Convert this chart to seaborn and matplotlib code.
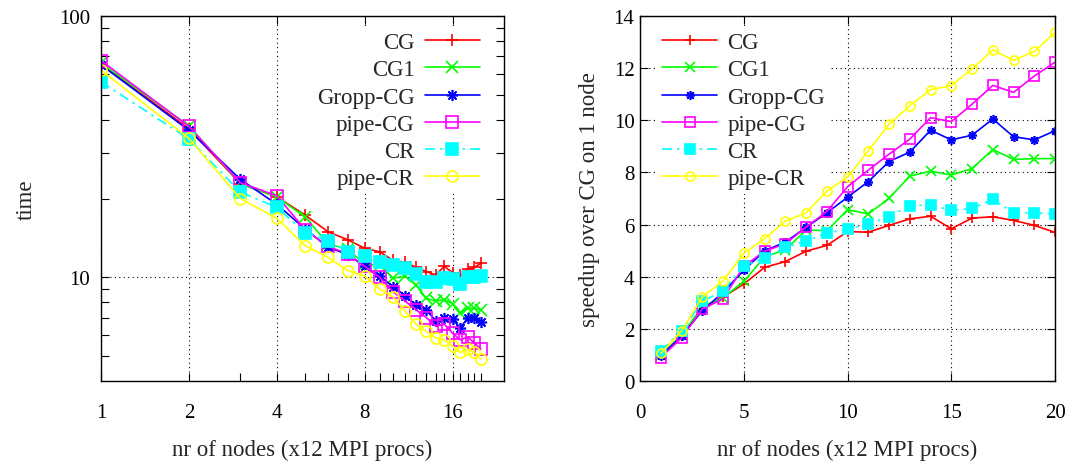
import numpy as np
import pandas as pd
import matplotlib
matplotlib.use("Agg")
import matplotlib.pyplot as plt
import seaborn as sns
from matplotlib.ticker import FixedLocator, NullFormatter, NullLocator

# --- dados ---
nodes = list(range(1, 21))
methods = ["CG", "CG1", "Gropp-CG", "pipe-CG", "CR", "pipe-CR"]

time_cg = [65.5, 37.0, 22.8, 20.3, 17.3, 14.9, 13.9, 12.9, 12.5, 11.6,
           11.4, 10.9, 10.5, 10.2, 11.0, 10.4, 10.2, 10.7, 10.9, 11.3]
time_cg1 = [66.0, 38.0, 22.8, 20.3, 17.0, 13.4, 12.8, 11.2, 11.1, 9.9,
            10.1, 9.3, 8.3, 8.1, 8.2, 7.9, 7.3, 7.6, 7.6, 7.5]
time_gropp = [65.0, 36.5, 23.7, 19.0, 15.3, 13.0, 12.2, 11.0, 10.1, 9.2,
              8.5, 7.8, 7.5, 6.8, 7.0, 6.9, 6.4, 6.95, 7.0, 6.75]
time_pipecg = [67.5, 37.8, 23.0, 20.5, 15.2, 13.1, 12.3, 11.0, 10.0, 8.8,
               8.1, 7.5, 7.0, 6.5, 6.6, 6.1, 5.75, 5.9, 5.6, 5.3]
time_cr = [56.0, 33.8, 21.2, 18.5, 14.8, 13.8, 12.5, 12.0, 11.4, 11.1,
           10.8, 10.3, 9.6, 9.6, 9.9, 9.8, 9.4, 10.0, 10.0, 10.1]
time_pipecr = [62.0, 34.0, 20.0, 16.8, 13.2, 11.9, 10.6, 10.1, 9.0, 8.4,
               7.4, 6.6, 6.2, 5.85, 5.75, 5.45, 5.15, 5.3, 5.15, 4.85]

sp_cg = [1.0, 1.74, 2.72, 3.22, 3.72, 4.36, 4.58, 4.98, 5.20, 5.73,
         5.71, 5.97, 6.22, 6.32, 5.84, 6.25, 6.30, 6.16, 5.97, 5.70]
sp_cg1 = [0.98, 1.75, 2.86, 3.20, 3.82, 4.76, 5.03, 5.80, 5.76, 6.57,
          6.41, 7.01, 7.86, 8.05, 7.90, 8.15, 8.88, 8.50, 8.53, 8.53]
sp_gropp = [0.97, 1.72, 2.70, 3.40, 4.25, 4.99, 5.33, 5.89, 6.45, 7.05,
            7.65, 8.42, 8.78, 9.62, 9.25, 9.43, 10.05, 9.37, 9.25, 9.60]
sp_pipecg = [0.90, 1.65, 2.77, 3.15, 4.40, 4.98, 5.26, 5.90, 6.50, 7.45,
             8.09, 8.70, 9.28, 10.10, 9.95, 10.62, 11.34, 11.07, 11.70, 12.23]
sp_cr = [1.15, 1.93, 3.05, 3.46, 4.40, 4.73, 5.13, 5.37, 5.68, 5.82,
         6.02, 6.30, 6.73, 6.75, 6.55, 6.62, 6.97, 6.45, 6.45, 6.40]
sp_pipecr = [1.06, 1.92, 3.22, 3.84, 4.90, 5.46, 6.13, 6.45, 7.28, 7.82,
             8.83, 9.85, 10.56, 11.18, 11.33, 11.97, 12.70, 12.30, 12.64, 13.37]

times = [time_cg, time_cg1, time_gropp, time_pipecg, time_cr, time_pipecr]
speedups = [sp_cg, sp_cg1, sp_gropp, sp_pipecg, sp_cr, sp_pipecr]

# --- estilo (gnuplot-like) ---
colors = ["#ff0000", "#00ff00", "#0000ff", "#ff00ff", "#00ffff", "#ffff00"]
markers = ["+", "x", (8, 2, 0), "s", "s", "o"]
filled = [True, True, True, False, True, False]
dash_cr = (0, (6, 3, 1.5, 3))
styles = ["-", "-", "-", "-", dash_cr, "-"]

sns.set_style("ticks")
plt.rcParams["font.family"] = ["Liberation Serif", "DejaVu Serif"]
FS = 15      # ticks
FS_LAB = 16.5  # rotulos e legenda

fig = plt.figure(figsize=(10.73, 4.64), dpi=100)
ax1 = fig.add_axes([0.0941, 0.1767, 0.3756, 0.7866])
ax2 = fig.add_axes([0.5965, 0.1767, 0.3868, 0.7866])


def draw(ax, ys, msize):
    for name, y, c, m, f, ls in zip(methods, ys, colors, markers, filled, styles):
        df = pd.DataFrame({"nodes": nodes, "val": y})
        sns.lineplot(data=df, x="nodes", y="val", ax=ax, color=c, lw=1.2,
                     linestyle=ls, marker=m, markersize=msize,
                     markerfacecolor=c if f else "none",
                     markeredgecolor=c, markeredgewidth=1.2, label=name)


def frame(ax):
    for s in ax.spines.values():
        s.set_linewidth(1.0)
        s.set_color("black")
    ax.set_axisbelow(True)
    ax.grid(True, which="major", color="black", linestyle=(0, (1, 3)), linewidth=0.8)
    ax.tick_params(which="both", direction="in", top=True, right=True,
                   labelsize=FS, colors="black", width=0.8, length=6)


def legenda(ax, loc, anchor, first):
    leg = ax.legend(loc=loc, bbox_to_anchor=anchor, markerfirst=first,
                    fontsize=FS_LAB, frameon=True, framealpha=1, facecolor="white",
                    edgecolor="none", fancybox=False, handlelength=2.4,
                    handletextpad=0.45, labelspacing=0.27, borderpad=0.2)
    # acima da grade, abaixo das curvas
    leg.set_zorder(1.5)


# --- grafico 1: tempo (log-log) ---
draw(ax1, times, 8)
ax1.set_xscale("log", base=2)
ax1.set_yscale("log")
ax1.set_xlim(1, 24)
ax1.set_ylim(4, 100)
ax1.xaxis.set_major_locator(FixedLocator([1, 2, 4, 8, 16]))
ax1.set_xticklabels(["1", "2", "4", "8", "16"])
ax1.xaxis.set_minor_locator(FixedLocator([n for n in nodes if n not in (1, 2, 4, 8, 16)]))
ax1.xaxis.set_minor_formatter(NullFormatter())
ax1.yaxis.set_major_locator(FixedLocator([10, 100]))
ax1.set_yticklabels(["10", "100"])
ax1.yaxis.set_minor_locator(FixedLocator([5, 6, 7, 8, 9, 20, 30, 40, 50, 60, 70, 80, 90]))
ax1.yaxis.set_minor_formatter(NullFormatter())
frame(ax1)
ax1.tick_params(axis="x", which="minor", top=False)
ax1.tick_params(axis="x", which="major", pad=16)
ax1.tick_params(axis="y", which="major", pad=8)
ax1.set_xlabel("nr of nodes (x12 MPI procs)", fontsize=FS_LAB, labelpad=12)
ax1.set_ylabel("time", fontsize=FS_LAB, labelpad=16)
legenda(ax1, "upper right", (0.98, 1.0), False)

# --- grafico 2: speedup ---
draw(ax2, speedups, 6.5)
ax2.set_xlim(0, 20)
ax2.set_ylim(0, 14)
ax2.set_xticks([0, 5, 10, 15, 20])
ax2.set_yticks(range(0, 15, 2))
ax2.xaxis.set_minor_locator(NullLocator())
frame(ax2)
ax2.tick_params(axis="x", which="major", pad=16)
ax2.tick_params(axis="y", which="major", pad=4)
ax2.set_xlabel("nr of nodes (x12 MPI procs)", fontsize=FS_LAB, labelpad=12)
ax2.set_ylabel("speedup over CG on 1 node", fontsize=FS_LAB, labelpad=10)
legenda(ax2, "upper left", (0.015, 1.0), True)

fig.savefig("out.png", dpi=100)
